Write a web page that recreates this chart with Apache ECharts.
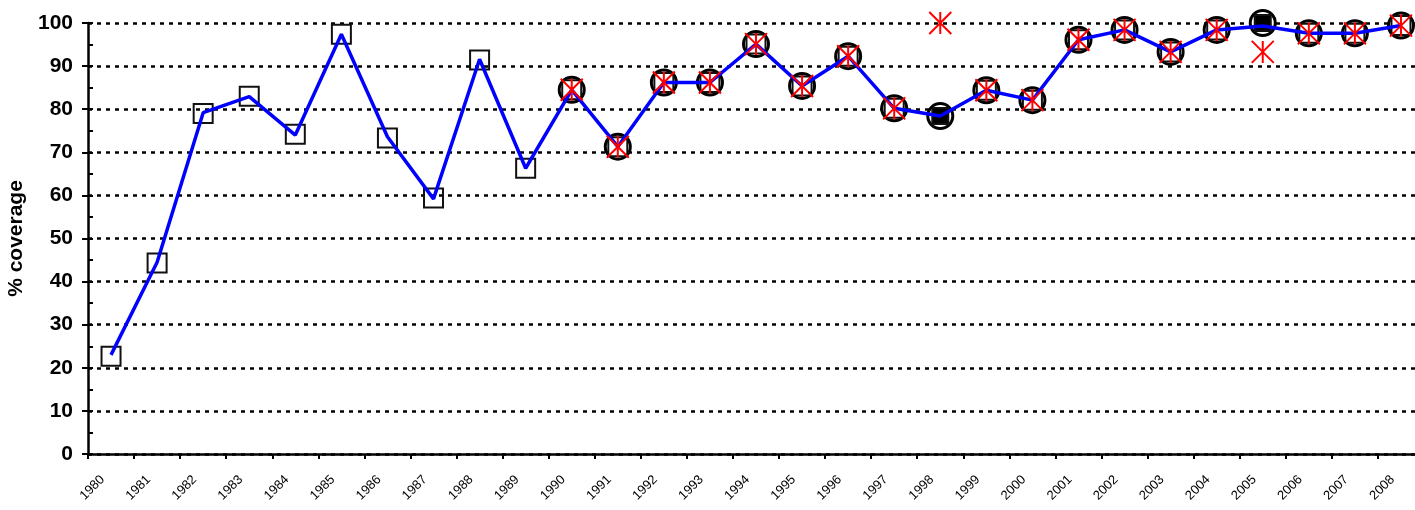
<!DOCTYPE html>
<html>
<head>
<meta charset="utf-8">
<script src="https://cdn.jsdelivr.net/npm/echarts@6/dist/echarts.min.js"></script>
<style>
  html, body { margin: 0; padding: 0; background: #fff; }
  .box { width: 1415px; height: 510px; }
</style>
</head>
<body>
<div class="box"></div>
<script>
const years = ['1980', '1981', '1982', '1983', '1984', '1985', '1986', '1987', '1988', '1989',
    '1990', '1991', '1992', '1993', '1994', '1995', '1996', '1997', '1998', '1999',
    '2000', '2001', '2002', '2003', '2004', '2005', '2006', '2007', '2008'];

// blue line
const lineValues = [23, 44.5, 79.2, 82.9, 74, 97.4, 73.6, 59.2, 91.6, 66.3,
    84.5, 71.3, 86.2, 86.2, 95.1, 85.4, 92.3, 80.2, 78.4, 84.4,
    82.1, 96.1, 98.4, 93.3, 98.4, 99.3, 97.6, 97.6, 99.4];

// open squares
const squareValues = [22.7, 44.3, 79, 83, 74.2, 97.4, 73.3, 59.4, 91.4, 66.3,
    84.5, 71.3, 86.2, 86.2, 95.1, 85.4, 92.3, 80.2, 78.4, 84.4,
    82.1, 96.1, 98.4, 93.3, 98.4, 100, 97.6, 97.6, 99.4];

// black circles
const circleValues = [null, null, null, null, null, null, null, null, null, null,
    84.5, 71.3, 86.2, 86.2, 95.1, 85.4, 92.3, 80.2, 78.4, 84.4,
    82.1, 96.1, 98.4, 93.3, 98.4, 100, 97.6, 97.6, 99.4];

// red asterisks
const starValues = [null, null, null, null, null, null, null, null, null, null,
    84.5, 71.3, 86.2, 86.2, 95.1, 85.4, 92.3, 80.2, 100, 84.4,
    82.1, 96.1, 98.4, 93.3, 98.4, 93.3, 97.6, 97.6, 99.4];

// years where the square is filled black
const filledYears = ['1998', '2005'];

const chartDom = document.getElementsByClassName('box')[0];
const myChart = echarts.init(chartDom);
let option;

const font = 'Liberation Sans, Arial, sans-serif';

const squareData = squareValues.map(function (v, i) {
    if (filledYears.indexOf(years[i]) >= 0) {
        return { value: v, symbolSize: 16, itemStyle: { color: '#000' } };
    }
    return v;
});

option = {
    animation: false,
    grid: { left: 88, right: -9, top: 23, bottom: 56, outerBoundsMode: 'none', containLabel: false },
    xAxis: {
        type: 'category',
        data: years,
        boundaryGap: true,
        axisLine: { lineStyle: { color: '#000', width: 2.5 } },
        axisTick: { show: true, length: 5, lineStyle: { color: '#000', width: 2 } },
        axisLabel: {
            rotate: 45,
            margin: 15,
            interval: 0,
            padding: [0, 12, 0, 0],
            fontFamily: font,
            fontSize: 13,
            color: '#000'
        },
        splitLine: { show: false }
    },
    yAxis: [
        {
            type: 'value',
            min: 0,
            max: 100,
            interval: 10,
            name: '% coverage',
            nameLocation: 'middle',
            nameGap: 57,
            nameTextStyle: { fontFamily: font, fontWeight: 'bold', fontSize: 21, color: '#000' },
            axisLine: { show: true, lineStyle: { color: '#000', width: 2.5 } },
            axisTick: { show: true, length: 6, lineStyle: { color: '#000', width: 2 } },
            axisLabel: {
                fontFamily: font,
                fontWeight: 'bold',
                fontSize: 21,
                color: '#000',
                margin: 15
            },
            splitLine: { show: true, lineStyle: { color: '#000', width: 2.5, type: [4, 5] } }
        },
        {
            // inner ticks and minor ticks
            type: 'value',
            position: 'left',
            offset: 0,
            min: 0,
            max: 100,
            interval: 10,
            axisLine: { show: false },
            axisLabel: { show: false },
            splitLine: { show: false },
            axisTick: { show: true, inside: true, length: 5, lineStyle: { color: '#000', width: 2 } },
            minorTick: { show: true, splitNumber: 2, length: 5, lineStyle: { color: '#000', width: 2 } }
        }
    ],
    series: [
        {
            type: 'line',
            name: 'circles',
            data: circleValues,
            z: 2,
            lineStyle: { width: 0, opacity: 0 },
            symbol: 'circle',
            symbolSize: 25,
            itemStyle: { color: '#fff', borderColor: '#000', borderWidth: 3 }
        },
        {
            type: 'line',
            name: 'squares',
            data: squareData,
            z: 3,
            lineStyle: { width: 0, opacity: 0 },
            symbol: 'rect',
            symbolSize: 19,
            itemStyle: { color: 'rgba(255,255,255,0)', borderColor: '#111', borderWidth: 2 }
        },
        {
            type: 'line',
            name: 'line',
            data: lineValues,
            z: 4,
            showSymbol: false,
            symbol: 'none',
            lineStyle: { color: '#0000ff', width: 3.5 }
        },
        {
            type: 'line',
            name: 'stars',
            data: starValues,
            z: 5,
            lineStyle: { width: 0, opacity: 0 },
            symbol: 'path://M0,0L20,20M20,0L0,20M10,0L10,20',
            symbolSize: 22,
            itemStyle: { color: 'none', borderColor: '#ff0000', borderWidth: 2 }
        }
    ]
};

myChart.setOption(option);
</script>
</body>
</html>
